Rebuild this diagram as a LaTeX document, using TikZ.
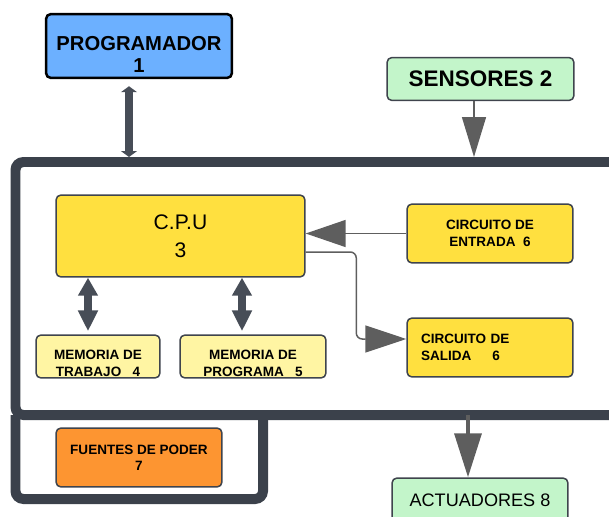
\documentclass[tikz,border=0pt]{standalone}
\usepackage{fontspec}
\setmainfont{Liberation Sans}
\usetikzlibrary{arrows.meta, calc, positioning}
\definecolor{frameg}{HTML}{3B414B}
\definecolor{busg}{HTML}{474D57}
\definecolor{arrowg}{HTML}{5E5E5E}
\definecolor{boxline}{HTML}{3F444D}
\definecolor{progblue}{HTML}{6CB0FF}
\definecolor{lightgreen}{HTML}{C3F5CA}
\definecolor{cpuyellow}{HTML}{FFE03F}
\definecolor{memyellow}{HTML}{FFF5A3}
\definecolor{powerorange}{HTML}{FD9531}

\begin{document}
\begin{tikzpicture}[x=0.02cm,y=-0.02cm]
\tikzset{
    box/.style={draw=boxline, line width=0.03cm, rounded corners=0.1cm, align=center, inner sep=0pt},
    small/.style={font=\bfseries\fontsize{7.7}{9.3}\selectfont},
    frame/.style={draw=frameg, line width=0.2cm, rounded corners=0.16cm},
    bus/.style={draw=busg, line width=0.16cm},
    thin arrow/.style={draw=arrowg, line width=0.03cm}
}
\path[use as bounding box, clip] (0,0) rectangle (609,517);

% PLC frame
\coordinate (ftl) at (15.5,162);
\coordinate (fbl) at (15.5,415);
\draw[frame] (640,162) -- (ftl) -- (fbl) -- (640,415);
\draw[frame] (fbl) -- (15.5,499) -- (263,499) -- (263,415);

% Blocks
\node[box, fill=progblue, draw=black, line width=0.05cm, minimum width=3.72cm, minimum height=1.28cm,
      font=\bfseries\fontsize{11.5}{12.5}\selectfont] (prog) at (139,46) {\rule{0pt}{18pt}PROGRAMADOR\\1};
\node[box, fill=lightgreen, minimum width=3.74cm, minimum height=0.86cm,
      font=\bfseries\fontsize{12.8}{14}\selectfont] (sens) at (480.5,79) {SENSORES 2};
\node[box, fill=cpuyellow, minimum width=4.98cm, minimum height=1.64cm,
      font=\fontsize{12}{16}\selectfont] (cpu) at (180.5,236) {C.P.U\\3};
\node[box, small, fill=cpuyellow, minimum width=3.32cm, minimum height=1.18cm] (cent) at (490,233.5) {CIRCUITO DE\\ENTRADA\ \ 6};
\node[box, small, fill=cpuyellow, minimum width=3.32cm, minimum height=1.18cm,
      align=left, text width=2.76cm, inner xsep=0.28cm] (csal) at (490,347.5) {CIRCUITO DE\\SALIDA\hspace{12pt}6};
\node[box, small, fill=memyellow, minimum width=2.48cm, minimum height=0.86cm] (memt) at (98,356.5) {\rule{0pt}{13pt}MEMORIA DE\\TRABAJO\ \ \ 4};
\node[box, small, fill=memyellow, minimum width=2.92cm, minimum height=0.86cm] (memp) at (253,356.5) {\rule{0pt}{13pt}MEMORIA DE\\PROGRAMA\ \ \ 5};
\node[box, small, fill=powerorange, minimum width=3.32cm, minimum height=1.18cm] (fuen) at (139,457.5) {FUENTES DE PODER\\7};
\node[box, fill=lightgreen, minimum width=3.52cm, minimum height=0.88cm,
      font=\fontsize{10.3}{12}\selectfont] (act) at (480,500) {ACTUADORES 8};

% Connections
\coordinate (progbus) at ($(prog.south)+(-10,0)$);
\draw[bus, {Triangle[length=0.12cm,width=0.32cm]}-{Triangle[length=0.12cm,width=0.32cm]},
      shorten <=0.14cm, shorten >=0.1cm] (progbus) -- (progbus |- ftl);
\coordinate (memtbus) at ($(memt.north)+(-10,0)$);
\coordinate (mempbus) at ($(memp.north)+(-11,0)$);
\draw[bus, {Triangle[length=0.36cm,width=0.38cm]}-{Triangle[length=0.42cm,width=0.38cm]},
      shorten >=0.06cm] (memtbus |- cpu.south) -- (memtbus);
\draw[bus, {Triangle[length=0.36cm,width=0.38cm]}-{Triangle[length=0.42cm,width=0.38cm]},
      shorten >=0.06cm] (mempbus |- cpu.south) -- (mempbus);
\coordinate (sensin) at ($(sens.south)+(-6.5,0)$);
\draw[thin arrow, -{Triangle[length=0.8cm,width=0.48cm]}, shorten >=0.1cm] (sensin) -- (sensin |- ftl);
\draw[thin arrow, -{Triangle[length=0.8cm,width=0.54cm]}] (cent.west) -- (cent.west -| cpu.east);
\coordinate (salin) at ($(csal.west)+(0,-8.5)$);
\draw[thin arrow, rounded corners=0.12cm, -{Triangle[length=0.82cm,width=0.54cm]}]
      ($(cpu.east)+(0,16)$) -| ($(salin)+(-50,0)$) -- (salin);
\coordinate (actin) at ($(act.north)+(-12,0)$);
\draw[draw=arrowg, line width=0.07cm, -{Triangle[length=0.88cm,width=0.54cm]}] (actin |- fbl) -- (actin);

\end{tikzpicture}
\end{document}
